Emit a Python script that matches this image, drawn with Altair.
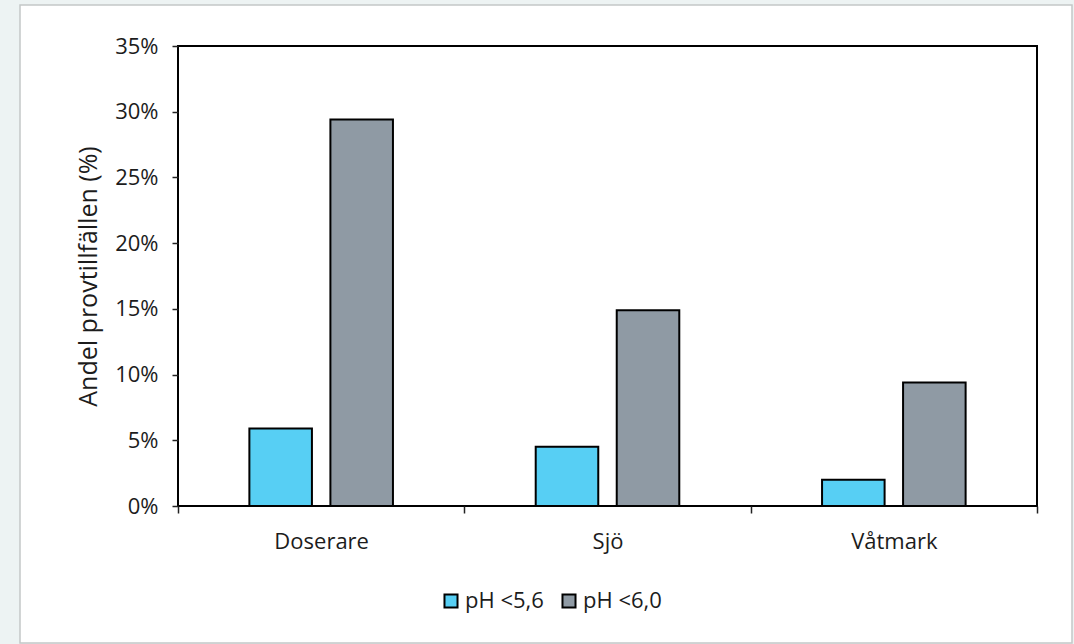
import altair as alt
import pandas as pd

# Share of samples below each pH threshold, per site type (percent)
sites = ["Doserare", "Sjö", "Våtmark"]
series = ["pH <5,6", "pH <6,0"]
share_ph_56 = [5.9, 4.5, 2.0]
share_ph_60 = [29.4, 14.9, 9.4]
y_ticks = [0, 5, 10, 15, 20, 25, 30, 35]
colors = ["#57cff4", "#8f9aa4"]

rows = []
for site, a, b in zip(sites, share_ph_56, share_ph_60):
    rows.append({"site": site, "series": series[0], "value": a})
    rows.append({"site": site, "series": series[1], "value": b})
df = pd.DataFrame(rows)

FONT = "Open Sans"
TEXT = "#1c1c1c"
W, H = 859, 460
PAD_L, PAD_T = 178, 46

# white card behind the whole figure
card = alt.Chart(alt.Data(values=[{}])).mark_rect(
    fill="white", stroke="#c4c8c8", strokeWidth=1.5
).encode(
    x=alt.value(20 - PAD_L), x2=alt.value(1072 - PAD_L),
    y=alt.value(5 - PAD_T), y2=alt.value(643 - PAD_T),
)

bars = alt.Chart(df).mark_bar(stroke="black", strokeWidth=2).encode(
    x=alt.X(
        "site:N", sort=sites, title=None,
        scale=alt.Scale(paddingInner=0, paddingOuter=0),
        axis=alt.Axis(
            labelAngle=0, domain=False, tickBand="extent", tickSize=7,
            tickColor="#222", tickWidth=1.5, labelPadding=18,
            labelFont=FONT, labelFontSize=22, labelColor=TEXT, zindex=2,
        ),
    ),
    xOffset=alt.XOffset(
        "series:N", sort=series,
        scale=alt.Scale(paddingInner=0.228, paddingOuter=0.881),
    ),
    y=alt.Y(
        "value:Q", title="Andel provtillfällen (%)",
        scale=alt.Scale(domain=[0, 35], nice=False),
        axis=alt.Axis(
            values=y_ticks, labelExpr="datum.value + '%'", grid=False,
            domain=False, tickSize=6, tickColor="#222", tickWidth=1.5,
            labelPadding=14, labelFont=FONT, labelFontSize=22, labelColor=TEXT,
            titleFont=FONT, titleFontSize=25, titleFontWeight="normal",
            titleColor=TEXT, titlePadding=13, zindex=2,
        ),
    ),
    color=alt.Color(
        "series:N", sort=series,
        scale=alt.Scale(domain=series, range=colors),
        legend=alt.Legend(
            title=None, orient="none", direction="horizontal",
            legendX=441 - PAD_L - 1, legendY=590 - PAD_T,
            symbolType="square", symbolSize=170, symbolStrokeColor="black",
            symbolStrokeWidth=2, symbolOpacity=1, labelFont=FONT,
            labelFontSize=22, labelColor=TEXT, labelOffset=3,
            columnPadding=14, padding=0, zindex=2,
        ),
    ),
)

# plot frame on top of the bars
frame = alt.Chart(alt.Data(values=[{}])).mark_rect(
    fill=None, stroke="black", strokeWidth=2
).encode(
    x=alt.value(0), x2=alt.value(W), y=alt.value(0), y2=alt.value(H),
)

chart = alt.layer(card, bars, frame).properties(
    width=W, height=H,
    autosize=alt.AutoSizeParams(type="none"),
    padding={"left": PAD_L, "top": PAD_T, "right": 1074 - PAD_L - W,
             "bottom": 644 - PAD_T - H},
    background="#edf3f3",
).configure_view(stroke=None)

chart.save("out.html", embed_options={"renderer": "svg", "actions": False})
